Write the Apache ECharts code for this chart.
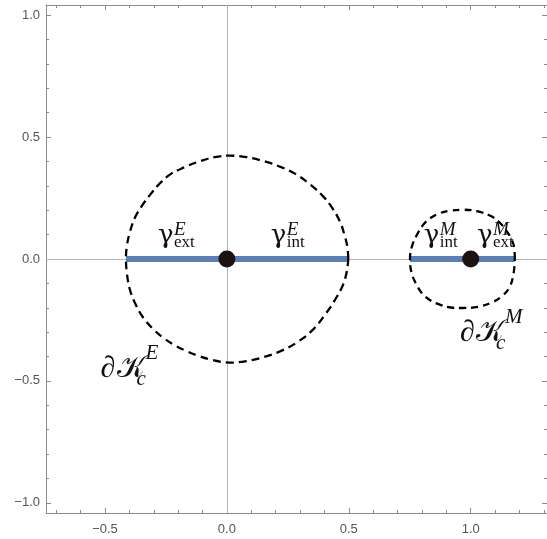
<!DOCTYPE html>
<html>
<head>
<meta charset="utf-8">
<script src="https://cdn.jsdelivr.net/npm/echarts@6/dist/echarts.min.js"></script>
<style>html,body{margin:0;padding:0;background:#fff}#c{width:547px;height:539px}</style>
</head>
<body>
<div id="c"></div>
<script>
// ---- data ----
const xRange = [-0.742, 1.313];
const yRange = [-1.042, 1.042];
const xMajor = [-0.5, 0, 0.5, 1.0];
const xMinor = [-0.7, -0.6, -0.4, -0.3, -0.2, -0.1, 0.1, 0.2, 0.3, 0.4, 0.6, 0.7, 0.8, 0.9, 1.1, 1.2, 1.3];
const yMajor = [-1.0, -0.5, 0, 0.5, 1.0];
const yMinor = [-0.9, -0.8, -0.7, -0.6, -0.4, -0.3, -0.2, -0.1, 0.1, 0.2, 0.3, 0.4, 0.6, 0.7, 0.8, 0.9];

// boundary curves
const boundaryE = [[0.498,0],[0.494,0.050],[0.482,0.100],[0.463,0.155],[0.432,0.210],[0.395,0.257],[0.345,0.303],[0.286,0.346],[0.220,0.378],[0.149,0.402],[0.080,0.418],[0.012,0.424],[-0.050,0.418],[-0.111,0.401],[-0.175,0.376],[-0.234,0.346],[-0.280,0.305],[-0.316,0.262],[-0.350,0.216],[-0.377,0.170],[-0.398,0.110],[-0.410,0.055],[-0.414,0],
  [-0.410,-0.060],[-0.398,-0.125],[-0.375,-0.185],[-0.343,-0.241],[-0.305,-0.285],[-0.261,-0.323],[-0.215,-0.353],[-0.165,-0.378],[-0.120,-0.396],[-0.070,-0.412],[0.012,-0.425],[0.080,-0.419],[0.149,-0.403],[0.220,-0.378],[0.286,-0.343],[0.350,-0.293],[0.405,-0.225],[0.448,-0.160],[0.477,-0.104],[0.492,-0.050],[0.498,0]];
const boundaryM = [[1.181,0],[1.178,0.050],[1.165,0.085],[1.147,0.115],[1.118,0.150],[1.083,0.176],[1.030,0.195],[0.969,0.202],[0.915,0.198],[0.873,0.188],[0.835,0.168],[0.805,0.140],[0.780,0.100],[0.760,0.055],[0.751,0],
  [0.757,-0.055],[0.775,-0.100],[0.800,-0.140],[0.835,-0.170],[0.873,-0.187],[0.920,-0.199],[0.969,-0.201],[1.030,-0.196],[1.083,-0.180],[1.125,-0.155],[1.158,-0.118],[1.175,-0.065],[1.181,0]];
// segments gamma
const segmentE = [[-0.414,0],[0.498,0]];
const segmentM = [[0.751,0],[1.181,0]];
// primaries
const bodies = [[0,0],[1,0]];

// label anchors (data coords, baseline-left): [x, y, sup, sub]
const gammaLabels = [[-0.279,0.069,'E','ext'],[0.184,0.069,'E','int'],[0.812,0.069,'M','int'],[1.030,0.069,'M','ext']];
const boundaryLabels = [[-0.518,-0.487,'E','c'],[0.956,-0.339,'M','c']];

const frameColor = '#8c8c8c';
const fmt = v => (v < 0 ? '\u2212' : '') + Math.abs(v).toFixed(1);

function xAx(pos, values, len, labels, line) {
  return {type:'value', min:xRange[0], max:xRange[1], position:pos,
    axisLine:{show:line, onZero:false, lineStyle:{color:frameColor, width:1}},
    axisTick:{show:true, inside:true, length:len, customValues:values, lineStyle:{color:frameColor}},
    axisLabel:{show:labels, customValues:values, formatter:fmt, color:'#555', fontSize:13, fontFamily:'Liberation Sans', margin:10},
    splitLine:{show:false}};
}
function yAx(pos, values, len, labels, line) {
  return {type:'value', min:yRange[0], max:yRange[1], position:pos,
    axisLine:{show:line, onZero:false, lineStyle:{color:frameColor, width:1}},
    axisTick:{show:true, inside:true, length:len, customValues:values, lineStyle:{color:frameColor}},
    axisLabel:{show:labels, customValues:values, formatter:fmt, color:'#555', fontSize:13, fontFamily:'Liberation Sans', margin:6},
    splitLine:{show:false}};
}

const chart = echarts.init(document.getElementById('c'), null, {renderer:'canvas'});
chart.setOption({
  animation:false,
  backgroundColor:'#fff',
  grid:{left:46, right:0, top:5, bottom:26},
  xAxis:[xAx('bottom', xMajor, 5, true, true), xAx('bottom', xMinor, 3, false, false),
         xAx('top', xMajor, 5, false, true), xAx('top', xMinor, 3, false, false)],
  yAxis:[yAx('left', yMajor, 5, true, true), yAx('left', yMinor, 3, false, false),
         yAx('right', yMajor, 5, false, true), yAx('right', yMinor, 3, false, false)],
  series:[
    {type:'line', data:[], z:1, markLine:{silent:true, z:1, symbol:'none', label:{show:false},
      lineStyle:{color:'#b3b3b3', width:1, type:'solid'}, data:[{xAxis:0},{yAxis:0}]}},
    {type:'line', data:segmentE, symbol:'none', lineStyle:{color:'#5b7eb6', width:6}, z:3},
    {type:'line', data:segmentM, symbol:'none', lineStyle:{color:'#5b7eb6', width:6}, z:3},
    {type:'line', data:boundaryE, symbol:'none', smooth:0.4, lineStyle:{color:'#000', width:2.3, type:[8,5]}, z:4},
    {type:'line', data:boundaryM, symbol:'none', smooth:0.4, lineStyle:{color:'#000', width:2.3, type:[7,5]}, z:4},
    {type:'scatter', data:bodies, symbolSize:17, itemStyle:{color:'#1c1212', opacity:1}, z:5}
  ]
});

const serif = '"Liberation Serif", "DejaVu Serif"';
const els = [];
function txt(x, y, s, font) {
  // y given as baseline; zrender text is top-aligned, so shift by ~0.8 of size
  const size = parseFloat(font.match(/(\d+(\.\d+)?)px/)[1]);
  els.push({type:'text', x:x, y:y - 0.8*size, z:10, style:{text:s, font:font, fill:'#111', verticalAlign:'top'}});
}
gammaLabels.forEach(l => {
  const p = chart.convertToPixel({gridIndex:0}, [l[0], l[1]]);
  txt(p[0]-1, p[1]+2, '\u03b3', '26px "DejaVu Serif"');
  txt(p[0]+15, p[1]-6, l[2], 'italic 19px ' + serif);
  txt(p[0]+15, p[1]+5, l[3], '17px ' + serif);
});
boundaryLabels.forEach(l => {
  const p = chart.convertToPixel({gridIndex:0}, [l[0], l[1]]);
  txt(p[0], p[1], '\u2202', '30px ' + serif);
  txt(p[0]+16, p[1], '\ud835\udca6', '30px ' + serif);
  txt(p[0]+45, p[1]-18, l[2], 'italic 21px ' + serif);
  txt(p[0]+36, p[1]+8, l[3], 'italic 21px ' + serif);
});
chart.setOption({graphic:{elements:els}});
</script>
</body>
</html>
